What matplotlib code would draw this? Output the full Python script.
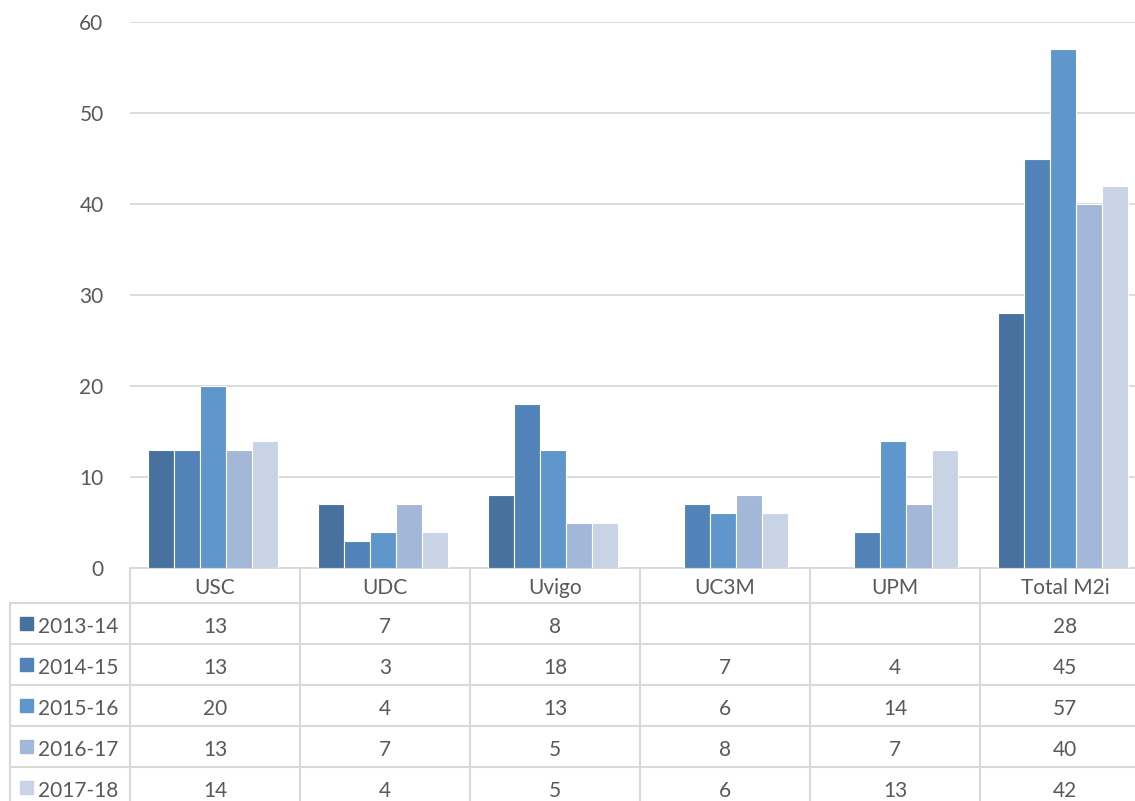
import numpy as np
import matplotlib
matplotlib.use("Agg")
import matplotlib.pyplot as plt
from matplotlib.patches import Rectangle

# datos de la tabla (celdas vacias = None)
universidades = ["USC", "UDC", "Uvigo", "UC3M", "UPM", "Total M2i"]
cursos = ["2013-14", "2014-15", "2015-16", "2016-17", "2017-18"]
c2013_14 = [13, 7, 8, None, None, 28]
c2014_15 = [13, 3, 18, 7, 4, 45]
c2015_16 = [20, 4, 13, 6, 14, 57]
c2016_17 = [13, 7, 5, 8, 7, 40]
c2017_18 = [14, 4, 5, 6, 13, 42]
series = [c2013_14, c2014_15, c2015_16, c2016_17, c2017_18]
colores = ["#47729f", "#5283b8", "#5f96cb", "#a3b7d9", "#c8d3e6"]
yticks = [0, 10, 20, 30, 40, 50, 60]

plt.rcParams["font.family"] = ["Lato", "DejaVu Sans"]
gris_txt = "#595959"
gris_lin = "#d9d9d9"
fs = 15

W, H = 1135, 801
fig = plt.figure(figsize=(W / 100, H / 100), dpi=100)

# zona del grafico: columnas de 170 px desde x=130, eje y de 22 a 568
col_w = 170
x0, y0, ytop = 130, 568, 22
ax = fig.add_axes([x0 / W, (H - y0) / H, 6 * col_w / W, (y0 - ytop) / H])
ax.set_xlim(-0.5, 5.5)
ax.set_ylim(0, 60)

x = np.arange(len(universidades))
bw = 0.153
for i, (s, c) in enumerate(zip(series, colores)):
    vals = [np.nan if v is None else v for v in s]
    ax.bar(x + (i - 2) * bw - 0.01, vals, width=bw, color=c, edgecolor="white", linewidth=0.8, zorder=3)

ax.set_yticks(yticks)
ax.set_yticklabels([str(t) for t in yticks], fontsize=fs, color=gris_txt)
ax.tick_params(axis="y", length=0, pad=19)
ax.set_xticks([])
ax.grid(axis="y", color=gris_lin, linewidth=1.3, zorder=0)
for sp in ["top", "right", "left"]:
    ax.spines[sp].set_visible(False)
ax.spines["bottom"].set_color(gris_lin)
ax.spines["bottom"].set_linewidth(1.3)

# tabla de datos bajo el grafico (unidades: columnas en x, filas en y)
tab = fig.add_axes([x0 / W, 0, 6 * col_w / W, (H - y0) / H])
row_h = 41
n_filas = (H - y0) / row_h
hdr = 35 / row_h
tab.set_xlim(-0.5, 5.5)
tab.set_ylim(n_filas, 0)
tab.axis("off")
left = -0.5 - 120 / col_w

# lineas verticales
for k in range(7):
    tab.plot([k - 0.5, k - 0.5], [0, n_filas + 1], color=gris_lin, lw=1.5, clip_on=False)
tab.plot([left, left], [hdr, n_filas + 1], color=gris_lin, lw=1.5, clip_on=False)
# lineas horizontales
for r in range(len(cursos) + 1):
    tab.plot([left, 5.6], [hdr + r, hdr + r], color=gris_lin, lw=1.5, clip_on=False)

# cabecera
for j, u in enumerate(universidades):
    tab.text(j, hdr / 2 + 0.07, u, ha="center", va="center", fontsize=fs, color=gris_txt)

# filas
sq_w = 13 / col_w
for r, (curso, s, c) in enumerate(zip(cursos, series, colores)):
    yc = hdr + r + 0.5
    tab.add_patch(Rectangle((left + 10 / col_w, yc - 6.5 / row_h), sq_w, 13 / row_h,
                            color=c, clip_on=False))
    tab.text(left + 28 / col_w, yc + 0.08, curso, ha="left", va="center",
             fontsize=fs, color=gris_txt, clip_on=False)
    for j, v in enumerate(s):
        if v is not None:
            tab.text(j, yc + 0.08, str(v), ha="center", va="center", fontsize=fs, color=gris_txt)

fig.savefig("out.png", dpi=100)
